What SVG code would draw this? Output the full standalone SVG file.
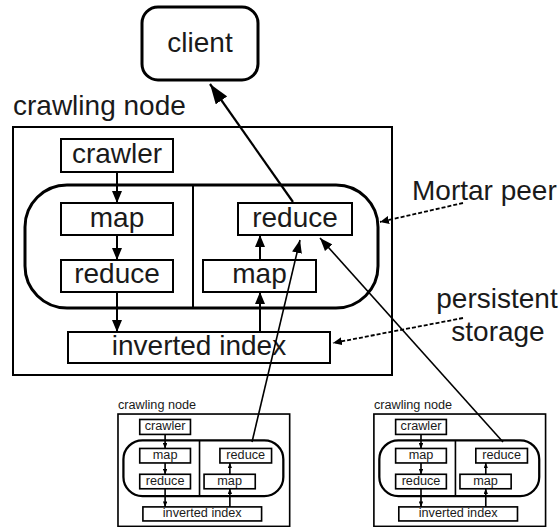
<svg xmlns="http://www.w3.org/2000/svg" width="560" height="527" viewBox="0 0 560 527">
<style>
  text { font-family: "Liberation Sans", Arial, sans-serif; font-size: 28px; fill: #1a1a1a; }
  .c { text-anchor: middle; }
  .box { fill: #fff; stroke: #000; stroke-width: 2; }
  .peer { fill: none; stroke: #000; stroke-width: 3; }
  .div { stroke: #000; stroke-width: 2; }
  .arr { stroke: #000; stroke-width: 2; fill: none; marker-end: url(#ah); }
  .sm .box { stroke-width: 3.6; }
  .sm .peer { stroke-width: 5; }
  .sm .div { stroke-width: 3.6; }
  .sm .arr { stroke-width: 3.6; }
  .long { stroke: #000; stroke-width: 1.6; fill: none; marker-end: url(#ahl); }
  .dot { stroke: #000; stroke-width: 1.8; stroke-dasharray: 4 2; fill: none; marker-end: url(#ahd); }
</style>
<defs>
  <marker id="ah" markerUnits="userSpaceOnUse" markerWidth="12" markerHeight="10" refX="12" refY="5" orient="auto">
    <path d="M0,0 L12,5 L0,10 z" fill="#000"/>
  </marker>
  <marker id="ahl" markerUnits="userSpaceOnUse" markerWidth="13" markerHeight="10" refX="13" refY="5" orient="auto">
    <path d="M0,0 L13,5 L0,10 z" fill="#000"/>
  </marker>
  <marker id="ahc" markerUnits="userSpaceOnUse" markerWidth="20" markerHeight="14" refX="20" refY="7" orient="auto">
    <path d="M0,0 L20,7 L0,14 z" fill="#000"/>
  </marker>
  <marker id="ahd" markerUnits="userSpaceOnUse" markerWidth="9" markerHeight="8" refX="9" refY="4" orient="auto">
    <path d="M0,0 L9,4 L0,8 z" fill="#000"/>
  </marker>
</defs>

<g id="client">
  <rect x="142" y="7" width="116" height="73" rx="16" fill="#fff" stroke="#000" stroke-width="3"/>
  <text x="200" y="52" class="c">client</text>
</g>

<g id="crawling-node-main">
  <text x="13" y="115">crawling node</text>
  <rect class="box" x="13" y="127" width="379" height="248"/>
  <g id="main-crawler"><rect class="box" x="61" y="139" width="112" height="33"/><text x="117" y="163" class="c">crawler</text></g>
  <g id="main-peer"><rect class="peer" x="25" y="185" width="353" height="123" rx="42"/><line class="div" x1="193" y1="185" x2="193" y2="308"/></g>
  <g id="main-map-left"><rect class="box" x="61" y="203" width="112" height="32"/><text x="117" y="227" class="c">map</text></g>
  <g id="main-reduce-left"><rect class="box" x="61" y="260" width="112" height="32"/><text x="117" y="283" class="c">reduce</text></g>
  <g id="main-reduce-right"><rect class="box" x="238" y="203" width="114" height="32"/><text x="295" y="227" class="c">reduce</text></g>
  <g id="main-map-right"><rect class="box" x="203" y="260" width="113" height="32"/><text x="259.5" y="283" class="c">map</text></g>
  <g id="main-index"><rect class="box" x="68" y="332" width="262" height="31"/><text x="199" y="355" class="c">inverted index</text></g>
</g>

<g id="crawling-node-left" class="sm" transform="translate(112.1 356.5) scale(0.453)">
  <text x="13" y="115">crawling node</text>
  <rect class="box" x="13" y="127" width="379" height="248"/>
  <rect class="box" x="61" y="139" width="112" height="33"/><text x="117" y="163" class="c">crawler</text>
  <rect class="peer" x="25" y="185" width="353" height="123" rx="42"/><line class="div" x1="193" y1="185" x2="193" y2="308"/>
  <rect class="box" x="61" y="203" width="112" height="32"/><text x="117" y="227" class="c">map</text>
  <rect class="box" x="61" y="260" width="112" height="32"/><text x="117" y="283" class="c">reduce</text>
  <rect class="box" x="238" y="203" width="114" height="32"/><text x="295" y="227" class="c">reduce</text>
  <rect class="box" x="203" y="260" width="113" height="32"/><text x="259.5" y="283" class="c">map</text>
  <rect class="box" x="68" y="332" width="262" height="31"/><text x="199" y="355" class="c">inverted index</text>
</g>

<g id="crawling-node-right" class="sm" transform="translate(368 356.5) scale(0.453)">
  <text x="13" y="115">crawling node</text>
  <rect class="box" x="13" y="127" width="379" height="248"/>
  <rect class="box" x="61" y="139" width="112" height="33"/><text x="117" y="163" class="c">crawler</text>
  <rect class="peer" x="25" y="185" width="353" height="123" rx="42"/><line class="div" x1="193" y1="185" x2="193" y2="308"/>
  <rect class="box" x="61" y="203" width="112" height="32"/><text x="117" y="227" class="c">map</text>
  <rect class="box" x="61" y="260" width="112" height="32"/><text x="117" y="283" class="c">reduce</text>
  <rect class="box" x="238" y="203" width="114" height="32"/><text x="295" y="227" class="c">reduce</text>
  <rect class="box" x="203" y="260" width="113" height="32"/><text x="259.5" y="283" class="c">map</text>
  <rect class="box" x="68" y="332" width="262" height="31"/><text x="199" y="355" class="c">inverted index</text>
</g>

<g id="labels">
  <text x="412" y="200">Mortar peer</text>
  <text x="497" y="308" class="c">persistent</text>
  <text x="498" y="341" class="c">storage</text>
</g>

<g id="connectors">
  <line class="arr" x1="117" y1="172" x2="117" y2="203"/>
  <line class="arr" x1="117" y1="235" x2="117" y2="260"/>
  <line class="arr" x1="117" y1="292" x2="117" y2="332"/>
  <line class="arr" x1="260" y1="332" x2="260" y2="292"/>
  <line class="arr" x1="260" y1="260" x2="260" y2="235"/>
  <g class="sm" transform="translate(112.1 356.5) scale(0.453)">
    <line class="arr" x1="117" y1="172" x2="117" y2="203"/>
    <line class="arr" x1="117" y1="235" x2="117" y2="260"/>
    <line class="arr" x1="117" y1="292" x2="117" y2="332"/>
    <line class="arr" x1="260" y1="332" x2="260" y2="292"/>
    <line class="arr" x1="260" y1="260" x2="260" y2="235"/>
  </g>
  <g class="sm" transform="translate(368 356.5) scale(0.453)">
    <line class="arr" x1="117" y1="172" x2="117" y2="203"/>
    <line class="arr" x1="117" y1="235" x2="117" y2="260"/>
    <line class="arr" x1="117" y1="292" x2="117" y2="332"/>
    <line class="arr" x1="260" y1="332" x2="260" y2="292"/>
    <line class="arr" x1="260" y1="260" x2="260" y2="235"/>
  </g>
  <line x1="293" y1="202" x2="210" y2="84" stroke="#000" stroke-width="2.2" marker-end="url(#ahc)"/>
  <line class="long" x1="252" y1="442" x2="300" y2="240"/>
  <line class="long" x1="503" y1="442" x2="320" y2="238"/>
  <line class="dot" x1="463" y1="203" x2="380" y2="222"/>
  <line class="dot" x1="463" y1="318" x2="333" y2="343"/>
</g>
</svg>
